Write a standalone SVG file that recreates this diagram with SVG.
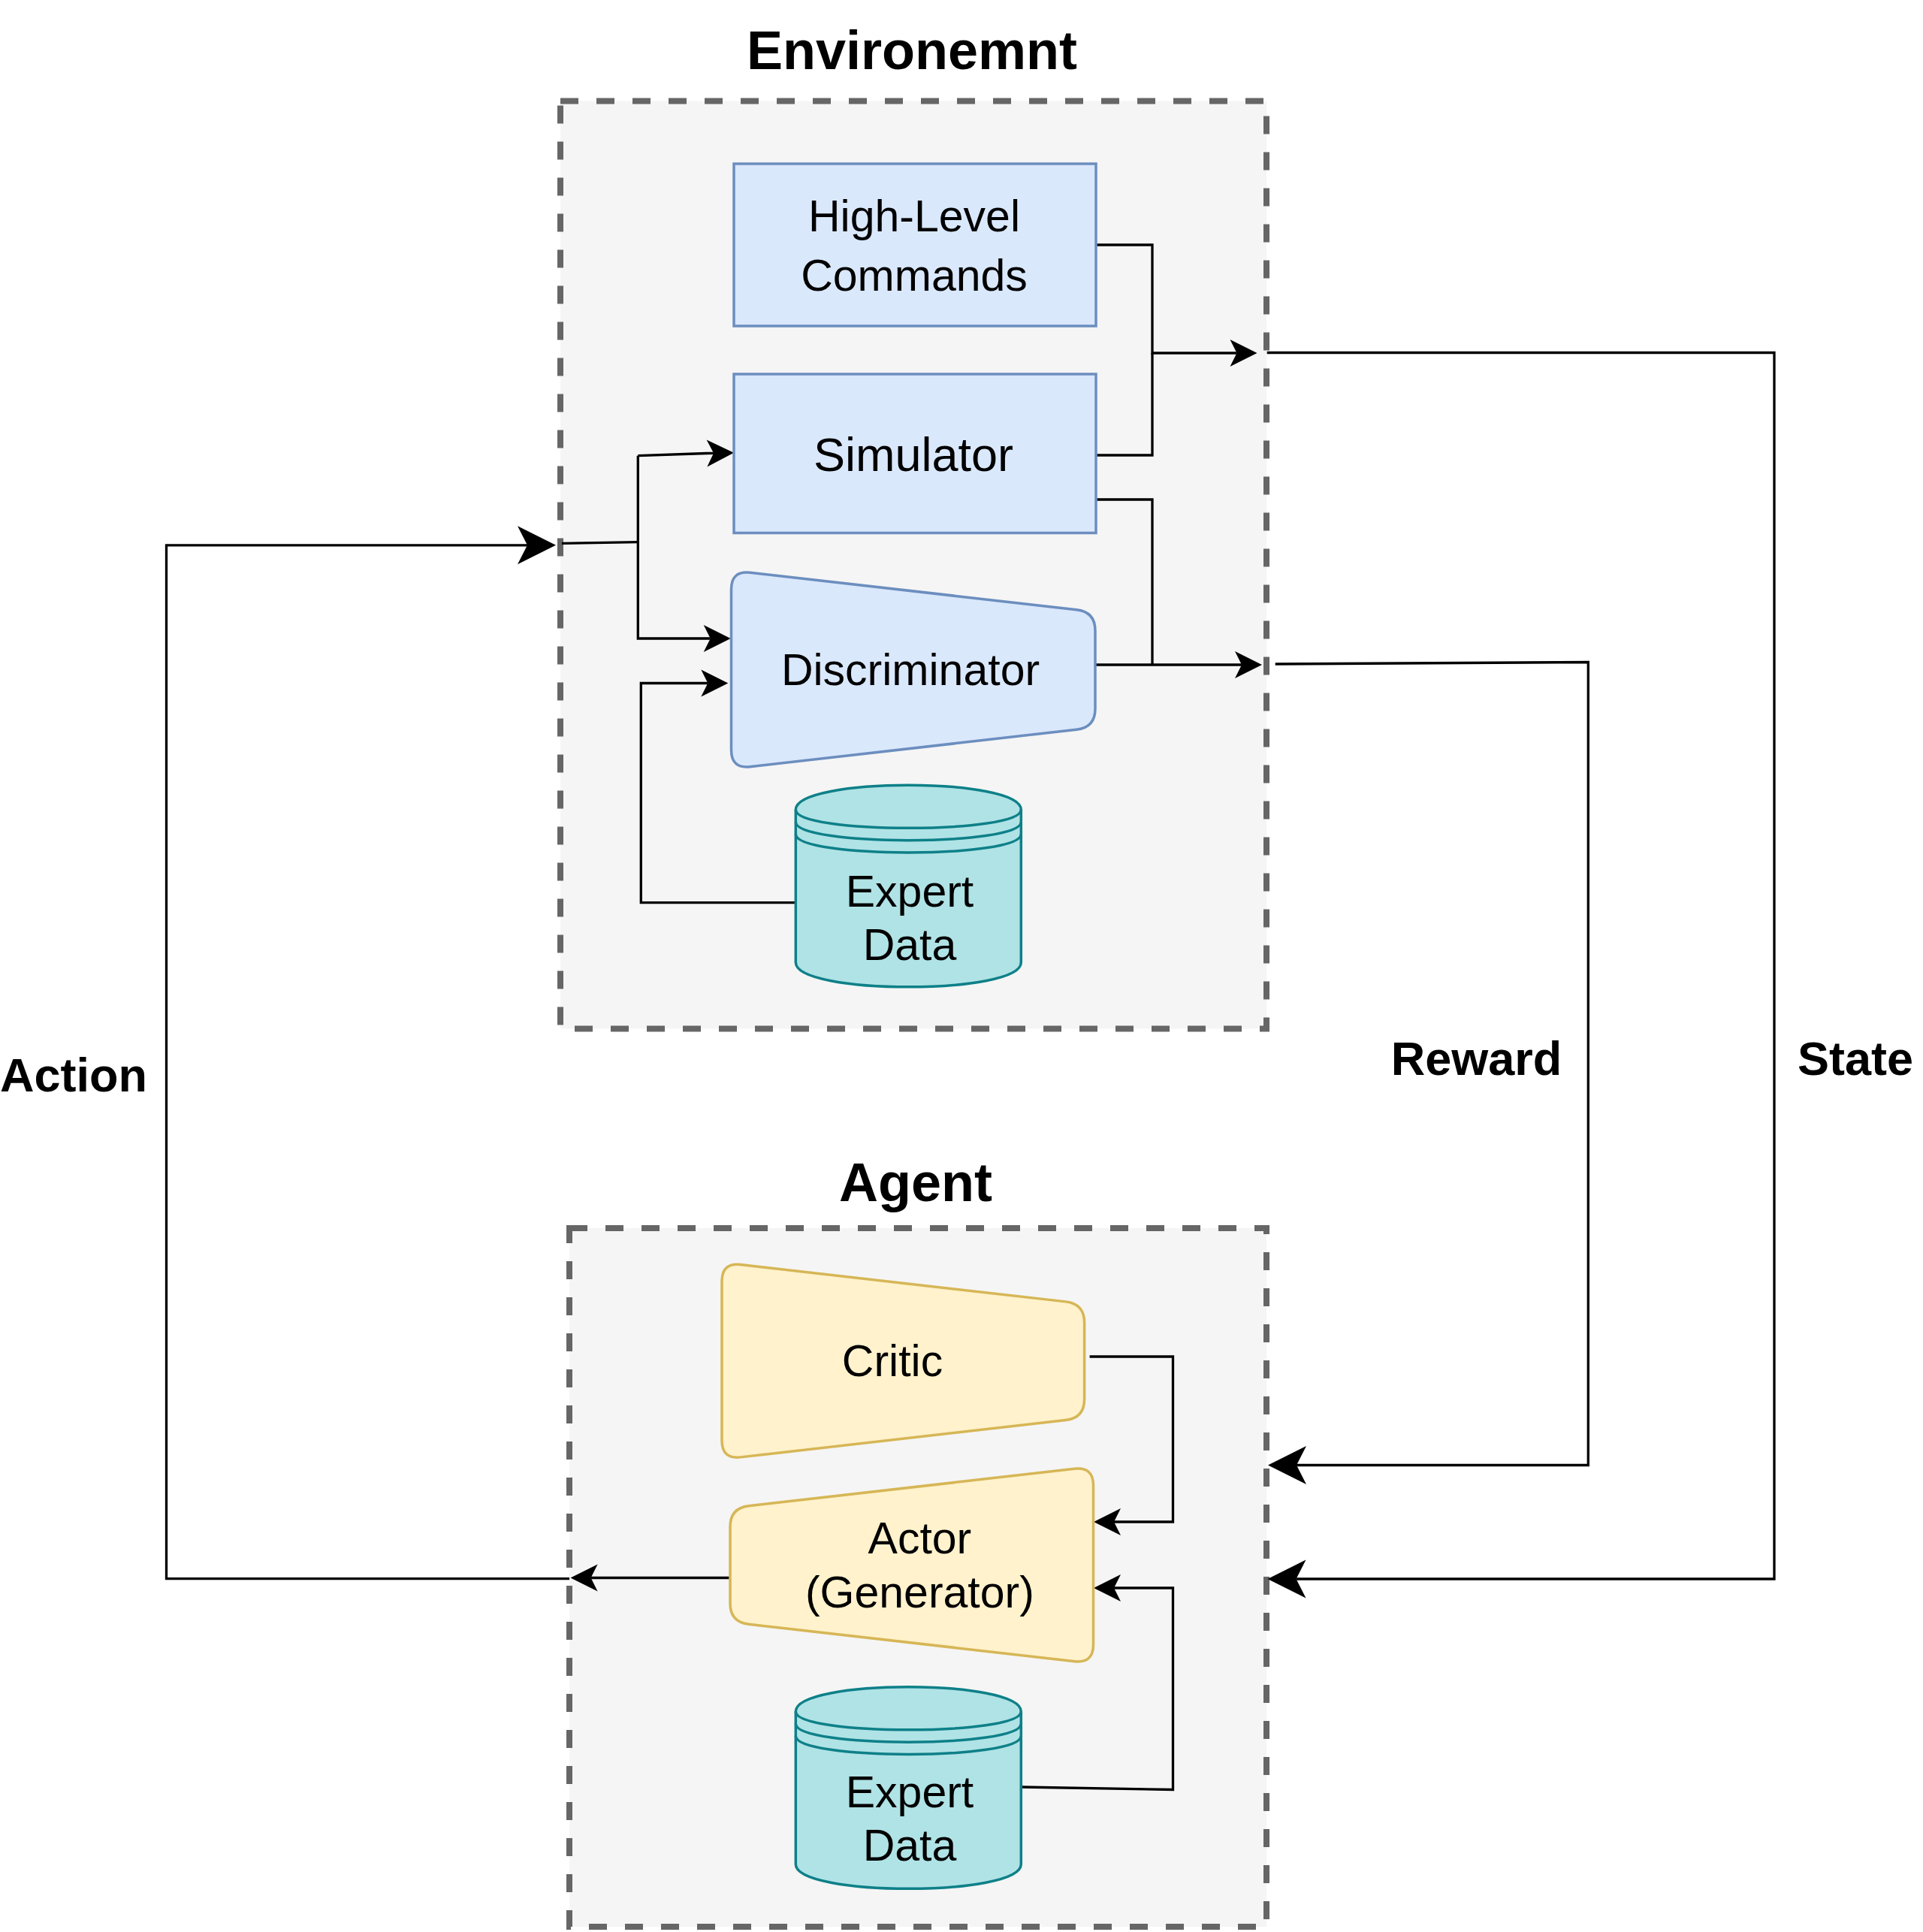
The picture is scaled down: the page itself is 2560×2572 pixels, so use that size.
<svg xmlns="http://www.w3.org/2000/svg" width="2560" height="2572" viewBox="0 0 2560 2572">
<style>
.container{fill:#f5f5f5;stroke:#666666;stroke-width:8;stroke-dasharray:24 24}
.blue{fill:#dae8fc;stroke:#6c8ebf;stroke-width:3.5}
.yellow{fill:#fff2cc;stroke:#d6b656;stroke-width:3.5}
.store{fill:#b0e3e6;stroke:#0e8088;stroke-width:3.5}
.storeline{fill:none;stroke:#0e8088;stroke-width:3.5}
.lbl{font-family:"Liberation Sans",Arial,sans-serif;font-size:59px;fill:#000000;text-anchor:middle}
.title{font-family:"Liberation Sans",Arial,sans-serif;font-size:72px;font-weight:bold;fill:#000000;text-anchor:middle}
.edgelbl{font-family:"Liberation Sans",Arial,sans-serif;font-size:63px;font-weight:bold;fill:#000000;text-anchor:middle}
.edge{fill:none;stroke:#000000;stroke-width:3.3}
.sm{marker-end:url(#arrowS)}
.bg{marker-end:url(#arrowB)}
</style>
<defs>
<marker id="arrowS" markerUnits="userSpaceOnUse" markerWidth="40" markerHeight="40" refX="9" refY="18" orient="auto" overflow="visible">
<path d="M36,18 L0,0 L9,18 L0,36 Z" fill="#000000"/>
</marker>
<marker id="arrowB" markerUnits="userSpaceOnUse" markerWidth="56" markerHeight="56" refX="13" refY="25.5" orient="auto" overflow="visible">
<path d="M51,25.5 L0,0 L13,25.5 L0,51 Z" fill="#000000"/>
</marker>
</defs>
<rect width="2560" height="2572" fill="#ffffff"/>

<g id="environment">
<rect class="container" x="746" y="134.5" width="940" height="1235"/>
<text class="title" x="1214" y="92">Environemnt</text>
</g>
<g id="agent">
<rect class="container" x="758" y="1635" width="928" height="930"/>
<text class="title" x="1219" y="1599">Agent</text>
</g>

<g id="connectors">
<path class="edge sm" d="M1459,326 H1534 V470 H1646.5"/>
<path class="edge" d="M1459,606 H1534 V470"/>
<path class="edge" d="M1459,665 H1534 V885"/>
<path class="edge sm" d="M1459,885 H1653"/>
<path class="edge bg" d="M1686.7,469.5 H2362 V2102 H1725.5"/>
<path class="edge bg" d="M1697.7,884 L2114.3,881.5 V1950.5 H1726"/>
<path class="edge sm" d="M971,2100.5 H786.6"/>
<path class="edge bg" d="M758,2101.7 H221.5 V725.8 H702"/>
<path class="edge" d="M748,723.3 L849.3,721.7"/>
<path class="edge sm" d="M849.3,606.7 V850 H945.7"/>
<path class="edge sm" d="M849.3,606.7 L940,603.5 L950,603.3"/>
<path class="edge sm" d="M1059,1201.7 H853.3 V909.5 H942.3"/>
<path class="edge sm" d="M1450.6,1806 H1561.5 V2026 H1483"/>
<path class="edge sm" d="M1359.4,2379 L1561.5,2382.5 V2114 H1483"/>
</g>

<g id="high-level-commands">
<rect class="blue" x="977" y="218" width="482" height="216"/>
<text class="lbl" x="1217" y="307.7">High-Level</text>
<text class="lbl" x="1217" y="386.6">Commands</text>
</g>
<g id="simulator">
<rect class="blue" x="977" y="498" width="482" height="211.5"/>
<text class="lbl" x="1216" y="626.8" style="font-size:63px">Simulator</text>
</g>
<g id="discriminator">
<path class="blue" d="M973.5,784.5 Q973.5,759.5 998.34,762.32 L1433.16,811.68 Q1458,814.5 1458,839.5 L1458,943.5 Q1458,968.5 1433.16,971.32 L998.34,1020.68 Q973.5,1023.5 973.5,998.5 Z"/>
<text class="lbl" x="1212" y="912">Discriminator</text>
</g>
<g id="expert-data-env">
<path class="store" d="M1059.3,1077.9 C1059.3,1034.4 1359.3,1034.4 1359.3,1077.9 L1359.3,1281.2 C1359.3,1324.7 1059.3,1324.7 1059.3,1281.2 Z"/>
<path class="storeline" d="M1059.3,1077.9 C1059.3,1110.5 1359.3,1110.5 1359.3,1077.9 M1059.3,1094.2 C1059.3,1126.8 1359.3,1126.8 1359.3,1094.2 M1059.3,1110.5 C1059.3,1143.1 1359.3,1143.1 1359.3,1110.5"/>
<text class="lbl" x="1211" y="1207">Expert</text>
<text class="lbl" x="1211" y="1278">Data</text>
</g>
<g id="critic">
<path class="yellow" d="M961,1705.7 Q961,1680.7 985.84,1683.53 L1418.76,1732.87 Q1443.6,1735.7 1443.6,1760.7 L1443.6,1862.7 Q1443.6,1887.7 1418.76,1890.53 L985.84,1939.87 Q961,1942.7 961,1917.7 Z"/>
<text class="lbl" x="1188" y="1831.6">Critic</text>
</g>
<g id="actor">
<path class="yellow" d="M972,2032.5 Q972,2007.5 996.84,2004.67 L1430.66,1955.33 Q1455.5,1952.5 1455.5,1977.5 L1455.5,2189.5 Q1455.5,2214.5 1430.66,2211.67 L996.84,2162.33 Q972,2159.5 972,2134.5 Z"/>
<text class="lbl" x="1224.4" y="2068">Actor</text>
<text class="lbl" x="1224.4" y="2140">(Generator)</text>
</g>
<g id="expert-data-agent">
<path class="store" d="M1059.3,2278.4 C1059.3,2234.9 1359.3,2234.9 1359.3,2278.4 L1359.3,2481.7 C1359.3,2525.2 1059.3,2525.2 1059.3,2481.7 Z"/>
<path class="storeline" d="M1059.3,2278.4 C1059.3,2311 1359.3,2311 1359.3,2278.4 M1059.3,2294.7 C1059.3,2327.3 1359.3,2327.3 1359.3,2294.7 M1059.3,2311 C1059.3,2343.6 1359.3,2343.6 1359.3,2311"/>
<text class="lbl" x="1211" y="2406">Expert</text>
<text class="lbl" x="1211" y="2477">Data</text>
</g>

<g id="edge-labels">
<text class="edgelbl" x="98" y="1452.5">Action</text>
<text class="edgelbl" x="1965.5" y="1431">Reward</text>
<text class="edgelbl" x="2470" y="1431">State</text>
</g>
</svg>
